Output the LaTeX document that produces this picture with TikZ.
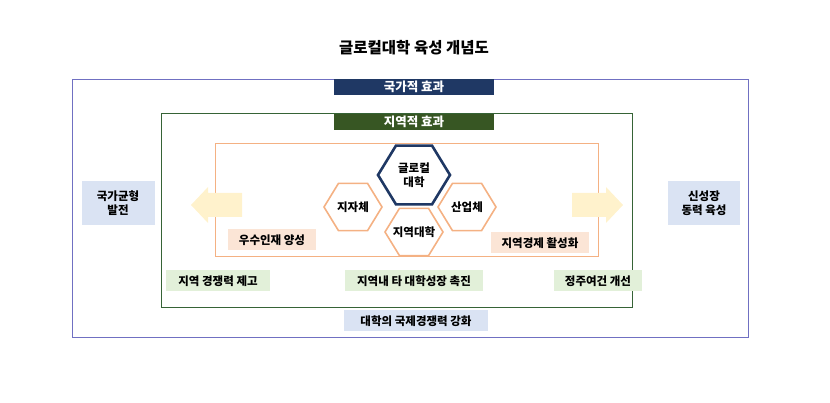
\documentclass[tikz,border=0pt]{standalone}
\usepackage{fontspec}
\setmainfont{Noto Sans CJK KR}
\definecolor{navy}{HTML}{1F3864}
\definecolor{dgreen}{HTML}{375623}
\definecolor{lblue}{HTML}{DAE3F3}
\definecolor{lgreen}{HTML}{E2F0D9}
\definecolor{lorange}{HTML}{FBE5D6}
\definecolor{orng}{HTML}{F4B183}
\definecolor{arr}{HTML}{FFF2CC}
\tikzset{
 lab/.style={font=\bfseries\fontsize{11.5}{14}\selectfont, inner sep=0pt, minimum height=21pt},
 hext/.style={align=center,font=\bfseries\fontsize{11.5}{14}\selectfont,inner sep=0pt},
 band/.style={font=\bfseries\fontsize{12.5}{14}\selectfont,text=white,minimum width=160pt,minimum height=16pt,inner sep=0pt},
}
\newcommand\hexdraw[4]{% x y halfw halfh
 \draw[#4] ({#1-#3},#2) -- ({#1-#3/2},{#2-#3*0.86*0.95}) -- ({#1+#3/2},{#2-#3*0.86*0.95}) -- ({#1+#3},#2) -- ({#1+#3/2},{#2+#3*0.86*0.95}) -- ({#1-#3/2},{#2+#3*0.86*0.95}) -- cycle;}
\begin{document}
\begin{tikzpicture}[x=1pt,y=-1pt]
\useasboundingbox (0,0) rectangle (830,403);
\node[font=\bfseries\fontsize{15.5}{18}\selectfont] (title) at (414,48) {글로컬대학 육성 개념도};
\draw[draw=gray!60!blue!80, line width=0.8pt] (72,79) rectangle (748,337);
\node[band,fill=navy] (nat) at (414,87) {국가적 효과};
\draw[draw=gray!70!green!60!black, line width=0.8pt] (161,113) rectangle (632,307);
\node[band,fill=dgreen] (reg) at (414,122) {지역적 효과};
\draw[draw=orng, line width=0.8pt] (215,143) rectangle (598,256);
\fill[arr] (242,193) -- (208,193) -- (208,187) -- (191,205) -- (208,223) -- (208,217) -- (242,217) -- cycle;
\fill[arr] (572,193) -- (606,193) -- (606,187) -- (623,205) -- (606,223) -- (606,217) -- (572,217) -- cycle;
\hexdraw{414}{175}{36}{navy,line width=2.6pt}
\hexdraw{353}{207}{29}{orng,line width=1.6pt}
\hexdraw{467}{207}{29}{orng,line width=1.6pt}
\hexdraw{414}{232}{29}{orng,line width=1.6pt}
\node[hext] (glo) at (414,175) {글로컬\\대학};
\node[hext] (jj) at (353,207) {지자체};
\node[hext] (sa) at (467,207) {산업체};
\node[hext] (jd) at (414,232) {지역대학};
\node[lab,fill=lorange,minimum width=88pt] (wo) at (272,240) {우수인재 양성};
\node[lab,fill=lorange,minimum width=98pt] (je) at (540,243) {지역경제 활성화};
\node[lab,fill=lgreen,minimum width=104pt] (g1) at (218,281) {지역 경쟁력 제고};
\node[lab,fill=lgreen,minimum width=138pt] (g2) at (414,281) {지역내 타 대학성장 촉진};
\node[lab,fill=lgreen,minimum width=88pt] (g3) at (598,281) {정주여건 개선};
\node[lab,fill=lblue,minimum width=144pt] (b1) at (416,321) {대학의 국제경쟁력 강화};
\node[lab,fill=lblue,minimum width=73pt,minimum height=44pt,align=center] (s1) at (118,203) {국가균형\\발전};
\node[lab,fill=lblue,minimum width=72pt,minimum height=44pt,align=center] (s2) at (704,203) {신성장\\동력 육성};
\end{tikzpicture}
\end{document}
